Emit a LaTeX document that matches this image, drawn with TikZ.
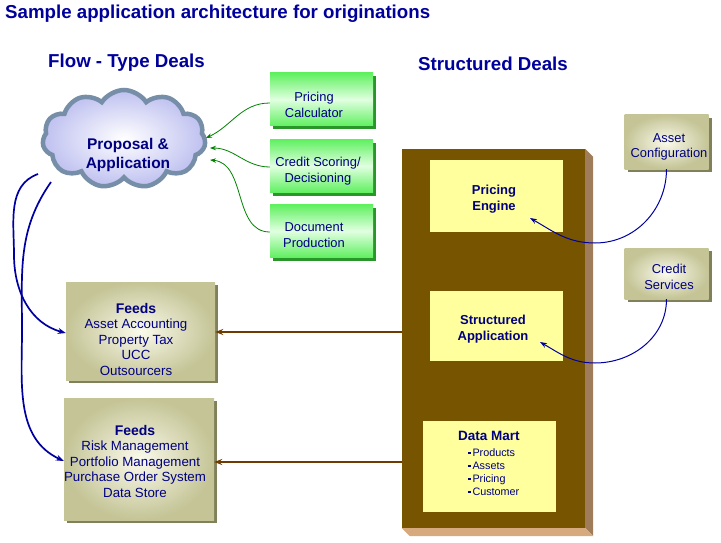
\documentclass[tikz,border=0pt]{standalone}
\usepackage{fontspec}
\setmainfont{Liberation Sans}
\usetikzlibrary{shapes.symbols,arrows.meta,calc,shadows}
\definecolor{navy}{RGB}{0,0,128}
\definecolor{headblue}{RGB}{0,0,155}
\definecolor{greenedge}{RGB}{96,240,96}
\definecolor{greenmid}{RGB}{225,255,225}
\definecolor{greenshadow}{RGB}{40,150,40}
\definecolor{tanedge}{RGB}{196,196,150}
\definecolor{tanmid}{RGB}{250,250,236}
\definecolor{tanshadow}{RGB}{128,128,90}
\definecolor{brownfront}{RGB}{118,84,0}
\definecolor{brownside}{RGB}{160,125,90}
\definecolor{brownbottom}{RGB}{215,170,125}
\definecolor{paleyellow}{RGB}{255,255,158}
\definecolor{cloudfill}{RGB}{190,192,240}
\definecolor{cloudline}{RGB}{118,142,168}
\definecolor{arrowbrown}{RGB}{110,60,0}
\definecolor{arrowgreen}{RGB}{0,130,0}
\definecolor{arrowblue}{RGB}{0,0,160}
\tikzset{
  greenbox/.style={rectangle, inner sep=0pt, minimum width=103pt, minimum height=53pt,
    top color=greenedge, bottom color=greenedge, middle color=greenmid,
    drop shadow={shadow xshift=3pt, shadow yshift=-3pt, fill=greenshadow, opacity=1}},
  tanbox/.style={rectangle, inner sep=0pt, inner color=tanmid, outer color=tanedge,
    drop shadow={shadow xshift=3pt, shadow yshift=-3pt, fill=tanshadow, opacity=1}},
  yellowbox/.style={rectangle, inner sep=0pt, fill=paleyellow, minimum width=133pt},
  bodytext/.style={text=navy, align=center, font=\fontsize{12.9}{15.5}\selectfont, inner sep=0pt},
  feedtext/.style={text=navy, align=center, font=\fontsize{13.3}{15.5}\selectfont, inner sep=0pt},
  boldtext/.style={text=navy, align=center, font=\fontsize{13}{16}\selectfont\bfseries, inner sep=0pt},
  heading/.style={text=headblue, font=\fontsize{18.7}{22}\selectfont\bfseries, inner sep=0pt, anchor=base west},
  greenarrow/.style={draw=arrowgreen, line width=0.8pt, -{Stealth[length=6pt,width=4.5pt]}},
  bluearrow/.style={draw=arrowblue, line width=1pt, -{Stealth[length=7pt,width=5pt]}},
  bluethick/.style={draw=arrowblue, line width=1.7pt, -{Stealth[length=8pt,width=6pt]}},
  brownarrow/.style={draw=arrowbrown, line width=1.9pt, -{Stealth[length=8pt,width=6pt]}},
}
\begin{document}
\begin{tikzpicture}[x=1pt,y=-1pt]
\useasboundingbox (0,0) rectangle (721,543);

% headings
\node[heading] (title) at (5,18.5) {Sample application architecture for originations};
\node[heading] (flowh) at (48,68) {Flow - Type Deals};
\node[heading] (structh) at (418,71) {Structured Deals};

% cloud
\node[cloud, cloud puffs=11, cloud puff arc=115, aspect=1.7, minimum width=163pt, minimum height=98pt,
  draw=cloudline, line width=4.5pt, inner color=white, outer color=cloudfill] (cloud) at (124,139) {};
\node[boldtext, font=\fontsize{15.5}{19}\selectfont\bfseries] (cloudtext) at (128,155) {Proposal \&\\Application};

% green boxes
\node[greenbox] (pc) at (321.5,99.5) {};
\node[bodytext] (pctext) at (314,105) {Pricing\\Calculator};
\node[greenbox] (cs) at (321.5,166) {};
\node[bodytext] (cstext) at (318,171) {Credit Scoring/\\Decisioning};
\node[greenbox] (dp) at (321.5,231) {};
\node[bodytext] (dptext) at (314,235) {Document\\Production};

% green arrows into cloud
\coordinate (c1) at (206,138);
\coordinate (c2) at (210,148);
\coordinate (c3) at (210,160);
\draw[greenarrow] (pc.west |- 0,103) to[out=180,in=25] (c1);
\draw[greenarrow] (cs.west |- 0,167) to[out=180,in=0] (c2);
\draw[greenarrow] (dp.west |- 0,232) to[out=180,in=-5] (c3);

% brown 3D box
\node[rectangle, fill=brownfront, inner sep=0pt, minimum width=183pt, minimum height=379pt] (brown) at (493.5,338.5) {};
\fill[brownside] (brown.north east) -- ++(8,8) -- ($(brown.south east)+(8,8)$) -- (brown.south east) -- cycle;
\fill[brownbottom] (brown.south west) -- (brown.south east) -- ++(8,8) -- ($(brown.south west)+(8,8)$) -- cycle;

% yellow boxes
\node[yellowbox, minimum height=72pt] (pe) at (496.5,196) {};
\node[boldtext] (petext) at (494,199) {Pricing\\Engine};
\node[yellowbox, minimum height=70pt] (sa) at (496.5,326) {};
\node[boldtext] (satext) at (493,329) {Structured\\Application};
\node[yellowbox, minimum height=91pt] (dm) at (489.5,466.5) {};
\node[boldtext, font=\fontsize{13.5}{16}\selectfont\bfseries] (dmtext) at (489,436) {Data Mart};
\node[text=navy, align=left, inner sep=0pt, anchor=north west, font=\fontsize{10.8}{13}\selectfont] (dmlist) at (468,448)
  {\rule[2pt]{2.5pt}{2.5pt}\,Products\\\rule[2pt]{2.5pt}{2.5pt}\,Assets\\\rule[2pt]{2.5pt}{2.5pt}\,Pricing\\\rule[2pt]{2.5pt}{2.5pt}\,Customer};

% tan boxes right
\node[tanbox, minimum width=84pt, minimum height=54pt] (ac) at (666.5,142) {};
\node[bodytext] (actext) at (669,147) {Asset\\Configuration};
\node[tanbox, minimum width=84pt, minimum height=51pt] (cr) at (666.5,273.5) {};
\node[bodytext] (crtext) at (669,277) {Credit\\Services};

% tan feeds boxes
\node[tanbox, minimum width=149pt, minimum height=98pt] (f1) at (140.5,331) {};
\node[feedtext] (f1text) at (136,339) {{\bfseries\fontsize{14}{16}\selectfont Feeds}\\Asset Accounting\\Property Tax\\UCC\\Outsourcers};
\node[tanbox, minimum width=150pt, minimum height=122pt] (f2) at (139,459) {};
\node[feedtext] (f2text) at (135,461) {{\bfseries\fontsize{14}{16}\selectfont Feeds}\\Risk Management\\Portfolio Management\\Purchase Order System\\Data Store};

% blue curves right
\coordinate (peIn) at (530,218);
\coordinate (saIn) at (540,342);
\coordinate (ab) at (595,243);
\coordinate (cb) at (595,363);
\draw[bluearrow] (ac.south) to[out=-90,in=0] (ab) to[out=180,in=-30] (peIn);
\draw[bluearrow] (cr.south) to[out=-90,in=0] (cb) to[out=180,in=-30] (saIn);

% brown arrows
\coordinate (b1) at (402,332);
\coordinate (b2) at (402,462);
\draw[brownarrow] (b1) -- (f1.east |- b1);
\draw[brownarrow] (b2) -- (f2.east |- b2);

% blue curves left from cloud
\coordinate (cl1) at (38,174);
\coordinate (cl2) at (51,182);
\coordinate (m1) at (14,255);
\coordinate (m2) at (22,330);
\draw[bluethick] (cl1) to[out=200,in=90] (m1) to[out=-90,in=165] (f1.west |- 0,333);
\draw[bluethick] (cl2) to[out=235,in=90] (m2) to[out=-90,in=155] (f2.west |- 0,461);
\end{tikzpicture}
\end{document}
